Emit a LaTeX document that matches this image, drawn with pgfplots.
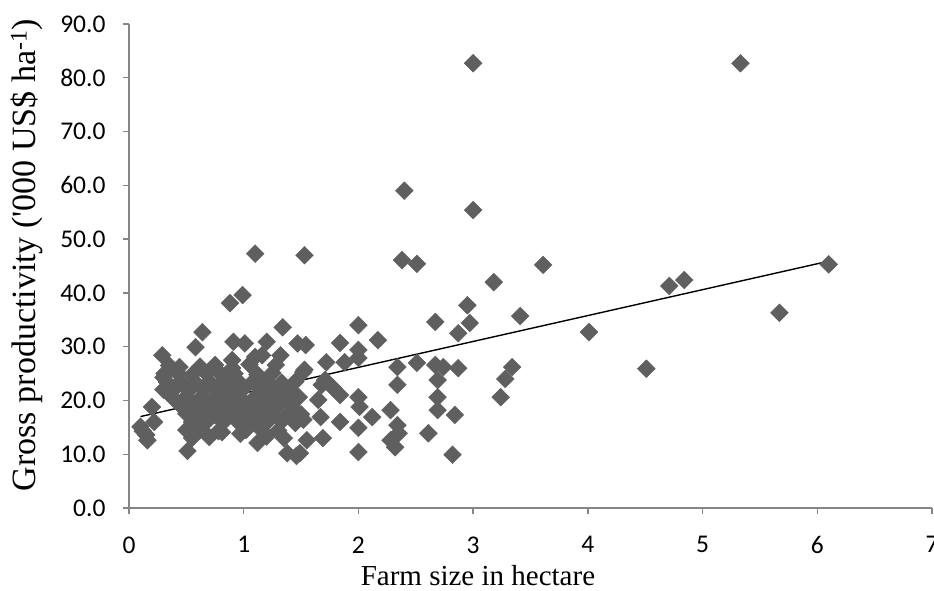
\documentclass[border=0pt]{standalone}
\usepackage{fontspec}
\setmainfont{Liberation Serif}
\newfontfamily\calib{Carlito}
\newfontfamily\labfont{Liberation Serif}[Ligatures=TeXOff]
\usepackage{pgfplots}
\usepackage{pgfplotstable}
\pgfplotsset{compat=1.18}
\definecolor{mk}{RGB}{95,95,95}
\definecolor{axc}{RGB}{134,134,134}
\pgfplotstableread{
x y
0.10 15.1
0.16 12.6
0.12 14.3
0.20 18.8
0.22 16.0
0.15 13.6
0.29 28.4
0.30 24.3
0.44 26.2
0.58 29.9
0.66 25.3
0.64 32.7
0.90 26.0
0.91 30.9
1.01 30.6
1.10 28.1
1.20 30.9
1.32 28.4
1.34 33.6
1.47 30.6
1.52 25.3
0.88 38.1
0.99 39.6
1.10 47.3
1.16 28.4
0.90 27.5
0.35 26.5
0.62 26.3
0.75 26.6
1.05 26.7
1.28 26.6
0.31 25.0
0.42 25.2
0.55 24.8
0.68 25.1
0.80 24.9
0.92 25.0
1.12 24.8
1.25 25.1
0.33 23.4
0.45 23.6
0.58 23.3
0.70 23.5
0.83 23.7
0.96 23.4
1.08 23.5
1.20 23.6
1.33 23.3
1.45 23.5
0.30 22.0
0.40 22.2
0.52 21.8
0.65 22.1
0.78 22.0
0.90 21.9
1.00 22.2
1.15 22.0
1.27 21.8
1.40 22.1
0.38 20.5
0.50 20.7
0.62 20.4
0.74 20.6
0.86 20.5
0.98 20.3
1.10 20.6
1.22 20.5
1.35 20.4
1.48 20.6
0.45 19.0
0.57 19.2
0.69 18.9
0.80 19.1
0.93 19.0
1.05 18.8
1.17 19.1
1.30 19.0
1.42 18.9
0.50 17.5
0.62 17.6
0.75 17.3
0.88 17.5
1.00 17.4
1.12 17.6
1.25 17.5
1.38 17.3
1.50 17.4
0.55 16.0
0.68 16.1
0.82 15.9
0.95 16.0
1.08 16.2
1.20 15.9
1.33 16.1
1.45 15.8
0.50 14.5
0.62 14.6
0.78 14.3
1.02 14.5
1.15 14.6
1.30 14.4
0.55 13.0
0.70 13.2
1.20 13.3
1.35 13.0
0.51 10.6
0.81 14.1
0.97 13.8
1.12 12.1
1.38 10.2
1.46 9.7
1.55 12.6
1.52 16.4
1.67 16.9
1.69 13.0
1.49 10.2
1.53 47.0
1.54 30.3
1.84 30.7
2.00 34.0
2.17 31.2
2.00 29.4
2.00 27.9
1.88 27.1
1.72 27.1
1.53 25.7
1.68 22.9
1.78 22.3
1.84 21.0
2.00 20.6
1.65 20.1
1.71 23.8
2.34 26.2
2.51 27.0
2.67 26.6
2.74 26.2
2.87 26.0
2.34 22.9
2.69 23.8
2.69 20.6
2.69 18.2
2.84 17.3
2.61 13.9
2.82 9.9
2.01 18.8
2.12 16.9
2.28 18.2
2.34 15.4
2.28 12.6
2.32 11.3
2.00 14.9
2.00 10.4
1.84 16.0
2.35 13.9
2.95 37.7
2.87 32.5
2.97 34.4
2.67 34.6
3.00 82.7
5.33 82.7
2.40 59.0
3.00 55.4
2.38 46.1
2.51 45.4
3.61 45.2
6.10 45.3
4.71 41.3
4.84 42.4
3.18 42.0
5.67 36.3
3.41 35.7
4.01 32.7
4.51 25.9
3.34 26.2
3.28 24.0
3.24 20.6
}\pts
\begin{document}
\begin{tikzpicture}
\begin{axis}[
  scale only axis, width=803pt, height=484pt,
  xmin=0, xmax=7, ymin=0, ymax=90,
  axis lines*=left,
  axis line style={axc, line width=1.3pt},
  tick style={axc, line width=1.3pt},
  tick align=outside, major tick length=6pt,
  xtick={0,1,...,7}, ytick={0,10,...,90},
  /pgf/number format/assume math mode=true,
  yticklabel style={/pgf/number format/.cd, fixed, fixed zerofill, precision=1, /tikz/.cd, xshift=-14pt},
  xticklabel style={yshift=-19pt},
  ticklabel style={font=\calib\fontsize{25.5}{29}\selectfont},
  xlabel={Farm size in hectare},
  ylabel={Gross productivity ('000 US\$ ha\textsuperscript{-1})},
  xlabel style={font=\labfont\fontsize{29}{33}\selectfont, at={(axis description cs:0.4346,-0.139)}, anchor=center},
  ylabel style={font=\labfont\fontsize{34}{38}\selectfont, at={(axis description cs:-0.127,0.5227)}, anchor=center},
  clip=false,
]
\addplot[only marks, mark=square*, mark size=6.3pt, mark options={fill=mk, draw=mk, rotate=45}] table[x=x,y=y] {\pts};
\addplot[black, line width=1.4pt, no marks] coordinates {(0.10,17.0) (6.10,45.9)};
\end{axis}
\pgfresetboundingbox
\path[use as bounding box] (-129pt,-83pt) rectangle (805pt,508pt);
\end{tikzpicture}
\end{document}
